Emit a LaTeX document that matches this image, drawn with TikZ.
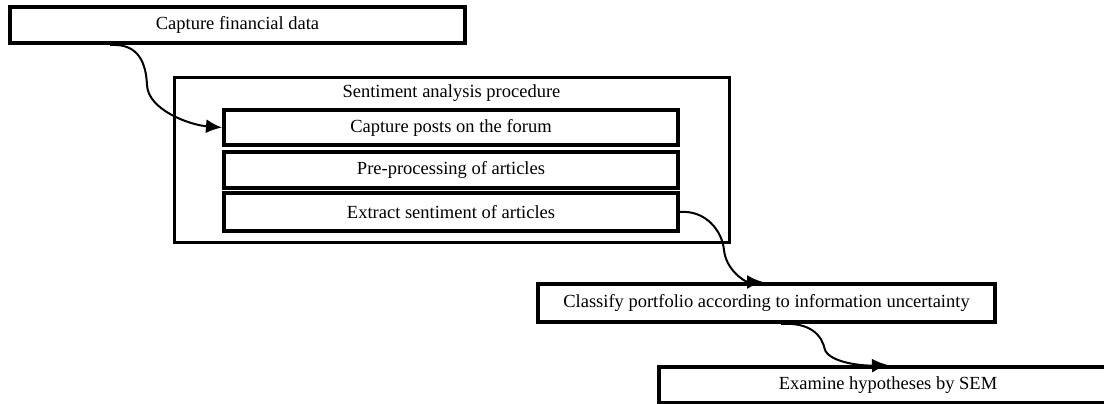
\documentclass[tikz,border=0pt]{standalone}
\usepackage{fontspec}
\setmainfont{Liberation Serif}
\usetikzlibrary{arrows.meta}

\begin{document}
\begin{tikzpicture}[x=1pt, y=-1pt,
    every node/.style={font=\fontsize{18.5}{22}\selectfont, inner sep=0pt},
    stepbox/.style={draw, line width=4pt, minimum height=36pt},
    groupbox/.style={draw, line width=3pt},
    flow/.style={line width=2pt, -{Latex[length=16pt,width=14pt]}}]
  \useasboundingbox (0,0) rectangle (1104,404);
  \clip (0,0) rectangle (1104,404);
  % steps
  \node[stepbox, minimum width=455pt] (fin) at (237.5,25) {Capture financial data};
  \node[groupbox, minimum width=555pt, minimum height=164pt,
        label={[anchor=north, yshift=-8pt]north:Sentiment analysis procedure}] (proc) at (451.5,160) {};
  \node[stepbox, minimum width=454pt, minimum height=35pt] (posts) at (451,127.5) {Capture posts on the forum};
  \node[stepbox, minimum width=454pt] (pre) at (451,170) {Pre-processing of articles};
  \node[stepbox, minimum width=454pt, minimum height=38pt] (extract) at (451,212) {Extract sentiment of articles};
  \node[stepbox, minimum width=457pt, minimum height=38pt] (classify) at (766.5,303) {Classify portfolio according to information uncertainty};
  \node[stepbox, minimum width=458pt] (exam) at (888,385) {Examine hypotheses by SEM};
  % connectors
  \draw[flow] ([xshift=102pt]fin.south west) .. controls (140,43) and (146,65) .. (147,85)
              .. controls (148,110) and (190,125) .. (posts.west);
  \draw[flow] (extract.east) .. controls (705,210) and (722,230) .. (724,250)
              .. controls (726,270) and (745,282) .. ([xshift=227pt]classify.north west);
  \draw[flow] ([xshift=245pt]classify.south west) .. controls (810,322) and (822,335) .. (825,350)
              .. controls (830,362) and (860,366) .. ([xshift=231pt]exam.north west);
\end{tikzpicture}
\end{document}
